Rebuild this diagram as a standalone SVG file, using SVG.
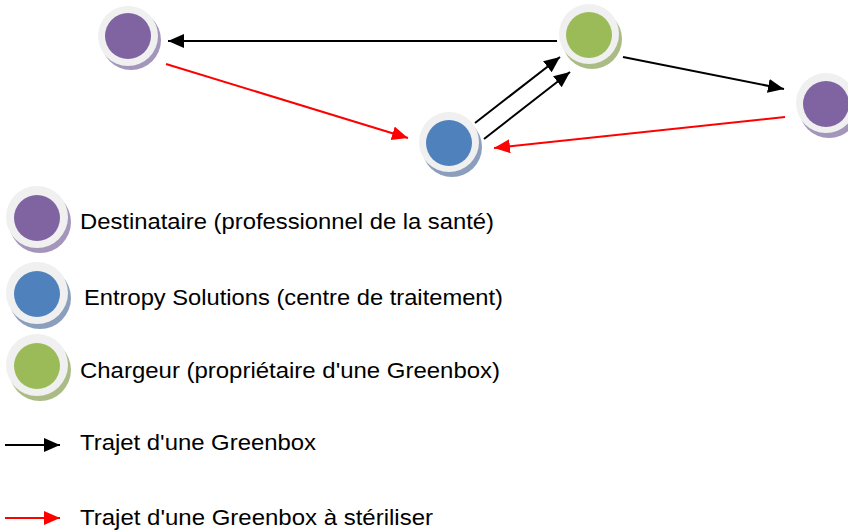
<svg xmlns="http://www.w3.org/2000/svg" width="848" height="531" viewBox="0 0 848 531">
<style>
.rim{fill:#f0f0f0}
.t{font-family:"Liberation Sans",Arial,sans-serif;font-size:22px;fill:#000}
.bk{stroke:#000;stroke-width:2;fill:none}
.rd{stroke:#ff0000;stroke-width:2;fill:none}
.pu{fill:#8064a2}.bl{fill:#4f81bd}.gr{fill:#9bbb59}
.spu{fill:#a496ba}.sbl{fill:#8b9fbd}.sgr{fill:#aabb86}
</style>
<defs>
<marker id="ab" markerUnits="userSpaceOnUse" markerWidth="18" markerHeight="16" refX="16" refY="7" orient="auto"><path d="M0,0 L16,7 L0,14 z" fill="#000"/></marker>
<marker id="ar" markerUnits="userSpaceOnUse" markerWidth="18" markerHeight="16" refX="16" refY="7" orient="auto"><path d="M0,0 L16,7 L0,14 z" fill="#ff0000"/></marker>
</defs>
<g id="connectors">
<line class="bk" x1="557" y1="41" x2="168" y2="41" marker-end="url(#ab)"/>
<line class="bk" x1="623" y1="57" x2="784" y2="89" marker-end="url(#ab)"/>
<line class="rd" x1="166" y1="64" x2="408" y2="138" marker-end="url(#ar)"/>
<line class="rd" x1="785" y1="117" x2="494" y2="148" marker-end="url(#ar)"/>
<line class="bk" x1="475" y1="123" x2="560" y2="57" marker-end="url(#ab)"/>
<line class="bk" x1="484" y1="139" x2="570" y2="72" marker-end="url(#ab)"/>
</g>
<g id="n1"><circle class="spu" cx="131" cy="40" r="30"/><circle class="rim" cx="128" cy="36" r="30"/><circle class="pu" cx="128" cy="36" r="23"/></g>
<g id="n2"><circle class="sbl" cx="452" cy="147" r="30"/><circle class="rim" cx="449" cy="142" r="30"/><circle class="bl" cx="449" cy="143" r="23"/></g>
<g id="n3"><circle class="sgr" cx="592" cy="39" r="30"/><circle class="rim" cx="589" cy="34" r="30"/><circle class="gr" cx="589" cy="35" r="23"/></g>
<g id="n4"><circle class="spu" cx="829" cy="108" r="30"/><circle class="rim" cx="826" cy="103" r="30"/><circle class="pu" cx="826" cy="104" r="23"/></g>
<g id="legend-destinataire"><circle class="spu" cx="40" cy="222" r="31"/><circle class="rim" cx="37" cy="217" r="31"/><circle class="pu" cx="37" cy="218" r="23"/><text class="t" x="80" y="229" textLength="414" lengthAdjust="spacingAndGlyphs">Destinataire (professionnel de la santé)</text></g>
<g id="legend-entropy"><circle class="sbl" cx="40" cy="298" r="31"/><circle class="rim" cx="37" cy="293" r="31"/><circle class="bl" cx="37" cy="294" r="23"/><text class="t" x="84" y="305" textLength="419" lengthAdjust="spacingAndGlyphs">Entropy Solutions (centre de traitement)</text></g>
<g id="legend-chargeur"><circle class="sgr" cx="40" cy="370" r="31"/><circle class="rim" cx="37" cy="365" r="31"/><circle class="gr" cx="37" cy="366" r="23"/><text class="t" x="80" y="378" textLength="420" lengthAdjust="spacingAndGlyphs">Chargeur (propriétaire d'une Greenbox)</text></g>
<g id="legend-trajet"><line class="bk" x1="5" y1="445" x2="60" y2="445" marker-end="url(#ab)"/><text class="t" x="80" y="450" textLength="236" lengthAdjust="spacingAndGlyphs">Trajet d'une Greenbox</text></g>
<g id="legend-steriliser"><line class="rd" x1="5" y1="518" x2="60" y2="518" marker-end="url(#ar)"/><text class="t" x="80" y="525" textLength="353" lengthAdjust="spacingAndGlyphs">Trajet d'une Greenbox à stériliser</text></g>
</svg>
